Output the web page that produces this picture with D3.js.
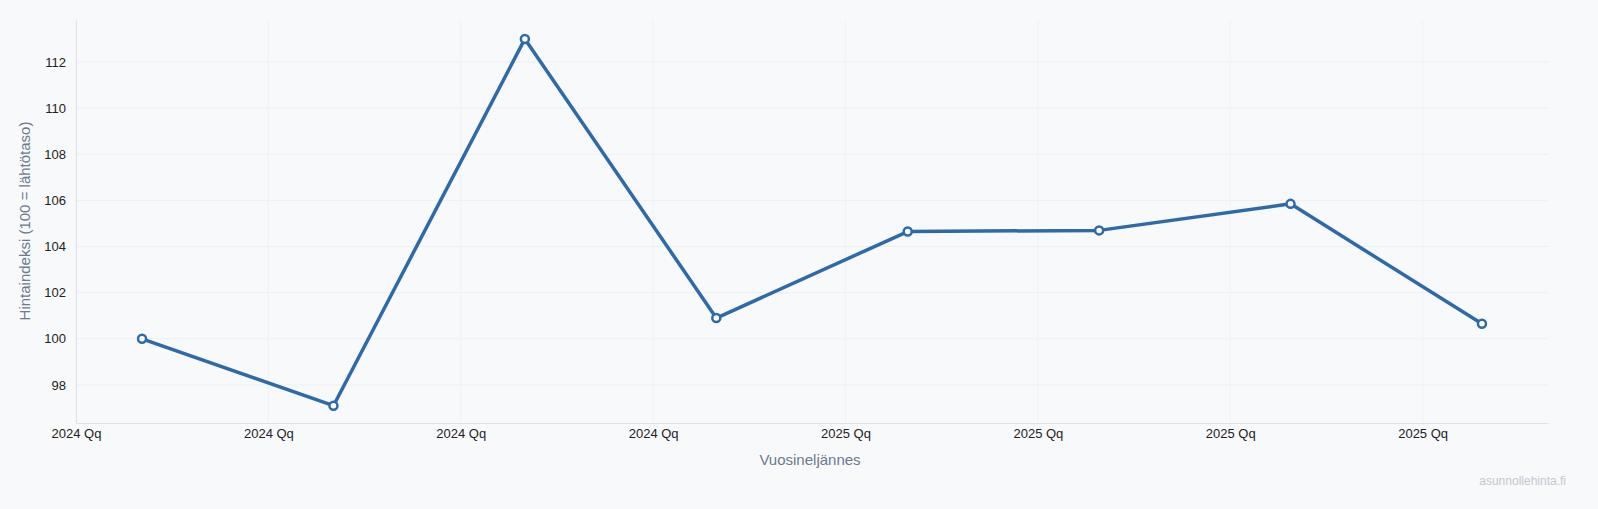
<!DOCTYPE html>
<html><head><meta charset="utf-8">
<script src="https://cdn.jsdelivr.net/npm/d3@7"></script>
<style>
html,body{margin:0;padding:0;overflow:hidden;background:#f8f9fb;font-family:"Liberation Sans",Arial,sans-serif;}
svg{display:block;}
</style></head><body><div id="chart"></div>
<script>
const quarters = [0, 1, 2, 3, 4, 5, 6, 7];
const indexValues = [100, 97.1, 113.0, 100.9, 104.65, 104.7, 105.85, 100.65];
const tickLabels = ['2024 Qq', '2024 Qq', '2024 Qq', '2024 Qq', '2025 Qq', '2025 Qq', '2025 Qq', '2025 Qq'];
const yTicks = [98, 100, 102, 104, 106, 108, 110, 112];

const W = 1598, H = 509;
const margin = { top: 20, right: 50, bottom: 86, left: 76 };
const width = W - margin.left - margin.right;
const height = H - margin.top - margin.bottom;

const svg = d3.select('#chart').append('svg').attr('width', W).attr('height', H);
svg.append('rect').attr('width', W).attr('height', H).attr('fill', '#f8f9fb');
const g = svg.append('g').attr('transform', 'translate(' + margin.left + ',' + margin.top + ')');

const x = d3.scaleLinear().domain([-0.345, 7.345]).range([0, width]);
const y = d3.scaleLinear().domain([96.35, 113.82]).range([height, 0]);
const xTicks = tickLabels.map((d, i) => -0.345 + i * 1.005);

// grid
g.append('g').selectAll('line').data(yTicks).enter().append('line')
  .attr('x1', 0).attr('x2', width).attr('y1', d => y(d)).attr('y2', d => y(d))
  .attr('stroke', '#eef0f3').attr('stroke-width', 1);
g.append('g').selectAll('line').data(xTicks).enter().append('line')
  .attr('y1', 0).attr('y2', height).attr('x1', d => x(d)).attr('x2', d => x(d))
  .attr('stroke', '#f0f2f5').attr('stroke-width', 1);

// axes
g.append('g').attr('transform', 'translate(0,' + height + ')')
  .call(d3.axisBottom(x).tickValues(xTicks).tickSize(0).tickFormat((d, i) => tickLabels[i]))
  .call(a => a.select('.domain').attr('stroke', '#dde2ea'))
  .call(a => a.selectAll('text').attr('dy', 12).attr('fill', '#222').attr('font-size', 13).attr('font-family', '"Liberation Sans",Arial,sans-serif'));
g.append('g')
  .call(d3.axisLeft(y).tickValues(yTicks).tickSize(0).tickPadding(10))
  .call(a => a.select('.domain').attr('stroke', '#dde2ea'))
  .call(a => a.selectAll('text').attr('fill', '#222').attr('font-size', 13).attr('font-family', '"Liberation Sans",Arial,sans-serif'));

// line
const line = d3.line().x((d, i) => x(quarters[i])).y(d => y(d));
g.append('path').datum(indexValues).attr('d', line)
  .attr('fill', 'none').attr('stroke', '#2e6aa8').attr('stroke-width', 3.5).attr('stroke-linejoin', 'round');
g.selectAll('circle').data(indexValues).enter().append('circle')
  .attr('cx', (d, i) => x(quarters[i])).attr('cy', d => y(d)).attr('r', 4)
  .attr('fill', '#fff').attr('stroke', '#2e6aa8').attr('stroke-width', 2.5);

// titles
svg.append('text').attr('x', 810).attr('y', 465).attr('text-anchor', 'middle')
  .attr('fill', '#6b7a90').attr('font-size', 15).text('Vuosineljännes');
svg.append('text').attr('transform', 'translate(30,221) rotate(-90)').attr('text-anchor', 'middle')
  .attr('fill', '#6b7a90').attr('font-size', 15).text('Hintaindeksi (100 = lähtötaso)');
svg.append('text').attr('x', 1566).attr('y', 485).attr('text-anchor', 'end')
  .attr('fill', '#c3c8d0').attr('font-size', 12).text('asunnollehinta.fi');
</script></body></html>
